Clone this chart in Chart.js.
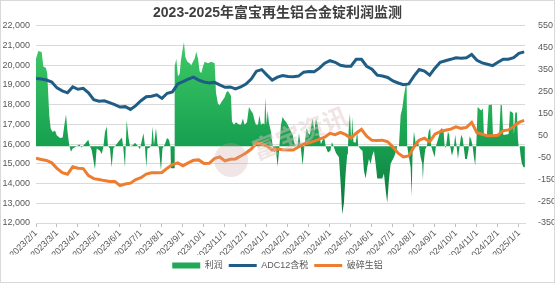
<!DOCTYPE html>
<html>
<head>
<meta charset="utf-8">
<script src="https://cdn.jsdelivr.net/npm/chart.js@4.4.1/dist/chart.umd.min.js"></script>
<style>
  html, body { margin: 0; padding: 0; background: #fff; }
  #wrap { width: 555px; height: 283px; position: relative; }
</style>
</head>
<body>
<div id="wrap"><canvas id="profitChart"></canvas></div>
<script>
// month tick labels (x axis)
const monthLabels = [
    '2023/2/1', '2023/3/1', '2023/4/1', '2023/5/1', '2023/6/1', '2023/7/1',
    '2023/8/1', '2023/9/1', '2023/10/1', '2023/11/1', '2023/12/1', '2024/1/1',
    '2024/2/1', '2024/3/1', '2024/4/1', '2024/5/1', '2024/6/1', '2024/7/1',
    '2024/8/1', '2024/9/1', '2024/10/1', '2024/11/1', '2024/12/1', '2025/1/1'
];

// ADC12含税 - four readings per month, left axis
const adc12 = [
    19330, 19300, 19250, 19150, 18850, 18700, 18600, 18900, 18780, 18830,
    18600, 18250, 18180, 18200, 18100, 18000, 17880, 17900, 17760, 17950,
    18200, 18400, 18430, 18500, 18320, 18580, 18650, 19050, 19170, 19300,
    19400, 19250, 19150, 19100, 19130, 19000, 18880, 18900, 18800, 18900,
    19050, 19300, 19700, 19780, 19500, 19250, 19400, 19480, 19430, 19420,
    19450, 19650, 19680, 19670, 19850, 20100, 20230, 20150, 20000, 19950,
    19950, 20300, 20300, 19950, 19800, 19500, 19450, 19380, 19200, 19100,
    19010, 19050, 19450, 19780, 19700, 19500, 19850, 20150, 20230, 20300,
    20380, 20350, 20380, 20550, 20250, 20120, 20050, 19980, 20150, 20310,
    20310, 20380, 20600, 20680
];

// 破碎生铝 - four readings per month, left axis
const scrapAl = [
    15280, 15220, 15170, 15050, 14770, 14550, 14470, 14850, 14780, 14760,
    14400, 14250, 14210, 14150, 14110, 14110, 13900, 13980, 14020, 14200,
    14300, 14480, 14550, 14550, 14560, 14780, 14960, 15050, 14900, 15050,
    15180, 15200, 15020, 15030, 15270, 15350, 15150, 15230, 15250, 15400,
    15550, 15750, 16050, 16020, 15900, 15700, 15750, 15720, 15700, 15700,
    15850, 16010, 16060, 16150, 16250, 16350, 16550, 16480, 16600, 16480,
    16300, 16550, 16750, 16400, 16190, 16180, 16200, 16120, 15850, 15540,
    15350, 15400, 15850, 16200, 16300, 16120, 16500, 16630, 16700, 16760,
    16880, 16800, 16850, 17100, 16580, 16500, 16420, 16420, 16450, 16680,
    16720, 16900, 17100, 17200
];

// 利润 - trading day index (21 per month) and value, right axis
const profitDay = [
    0, 2.3, 5.7, 7.3, 10, 11.3, 12.3, 13.3, 14.7, 16.7,
    19, 20.7, 24, 26.7, 28.3, 30, 31.7, 33.3, 35, 36.7,
    40.7, 43.3, 45.7, 49, 52.3, 54, 55.7, 59, 60.7, 64,
    65.7, 67.3, 69, 70.7, 72, 74, 75.7, 77.3, 80.7, 84,
    86, 87.3, 89, 90.7, 92.5, 94, 97, 99, 102, 104,
    106, 107.5, 109, 110.3, 111.5, 114, 115.5, 116.5, 118, 120,
    121.5, 123, 125, 126.5, 129, 131, 133, 134.5, 135, 138.3,
    138.7, 140.3, 142, 143.7, 145, 147, 148, 149.3, 151.3, 153.7,
    155.3, 157, 158.7, 160.3, 162, 163.7, 165.3, 167, 168.7, 172,
    175.3, 177, 178.7, 179.3, 180, 182, 183.7, 185.3, 188.7, 190.3,
    192, 193, 195, 196, 198, 200, 203, 205, 207, 208.5,
    211, 213, 215, 217, 218.5, 220, 222, 223.5, 225, 227,
    228.5, 229.3, 230.7, 231.7, 233, 235, 236.7, 238.3, 240, 241.7,
    243.3, 245, 246.7, 248.3, 250, 251.7, 253.3, 255, 256.7, 258.3,
    260, 261.7, 263, 264.3, 266.7, 268.3, 270.7, 272.3, 274, 275,
    276.7, 278.3, 280, 281.7, 283.3, 285, 286.7, 288.5, 290, 292,
    294.5, 296, 298, 300, 303, 304.7, 306.3, 308, 309.7, 311.3,
    312, 313, 314, 315.3, 316.3, 317.5, 319.7, 321.3, 322.3, 324.7,
    326.5, 328, 329.7, 331.3, 333, 334.7, 336.3, 338, 339.7, 341.3,
    346.3, 348, 349.7, 351.3, 353, 354.7, 356.3, 358, 359.7, 361.3,
    363, 364.7, 366.3, 368, 369.7, 370.7, 371.3, 373, 374.7, 375.7,
    376.7, 378, 379.7, 381.3, 383, 384.7, 386.3, 387, 387.7, 389.3,
    391, 392.7, 394.3, 395.3, 396.7, 398.7, 400, 402, 403.3, 404.3,
    406, 407.7, 408.7, 410, 411, 412, 413.3, 414.3, 416, 417.7,
    419.3, 420.7, 422, 423.3, 425.3, 426.7, 427.7, 429.3, 431, 432.7,
    433.7, 435.3, 436.7, 438, 439.3, 440.3, 441.7, 443.3, 445.3, 447,
    448, 449.3, 451, 452.7, 454.3, 456, 457, 459.3, 461, 463.3,
    464.7, 466, 467.3, 469.3, 472.7, 474, 476, 477.3, 478, 479.3,
    481, 482, 482.7, 483.7, 484.7, 486, 487.7, 489
];
const profitVal = [
    400, 435, 430, 364, 357, 330, 231, 140, 80, 65,
    72, 50, 38, 40, 95, 145, 60, 5, -25, -10,
    0, 8, -5, 12, 30, 0, -18, -105, -10, -20,
    -35, -5, 65, 90, 0, -10, -95, -10, 10, 30,
    40, -5, -95, 120, 40, 0, 5, 16, 0, -13,
    31, 60, 0, -95, -10, -5, 10, 90, 5, 83,
    10, -10, -110, -10, 10, 38, 30, 0, -100, -100,
    364, 400, 320, 330, 394, 453, 475, 409, 386, 379,
    370, 386, 401, 431, 401, 342, 335, 364, 386, 379,
    386, 382, 379, 320, 246, 194, 187, 201, 224, 246,
    253, 246, 231, 113, 98, 110, 100, 98, 127, 98,
    110, 179, 164, 150, 120, 98, 98, 142, 98, 105,
    100, 224, 100, 164, 105, 68, 0, -28, -20, -92,
    -10, 98, 135, 120, 112, 98, 83, 68, 53, 16,
    0, 5, 60, 16, -87, -5, 83, 60, 53, 90,
    127, 68, 127, 98, 53, 10, 30, 35, -5, -28,
    -20, 20, -5, -30, -50, -169, -310, -258, -124, -36,
    0, 98, 150, 20, 135, 20, 16, 68, 0, -13,
    -20, -110, -147, -95, -58, -80, -43, -21, -80, -147,
    -147, -124, -198, -258, -154, -80, -65, -50, -28, 0,
    0, 142, 172, 231, 275, 283, 0, -50, -95, -228,
    -20, 68, 16, 31, 0, -50, -80, -154, -80, -13,
    0, 68, 83, 0, -21, -50, 0, 31, 53, 75,
    83, 68, 0, -6, 31, 68, 53, 0, -43, -13,
    53, 0, -58, -13, 53, 38, 0, -58, -58, -13,
    46, 31, 0, -50, -87, 0, 179, 172, 164, 172,
    53, 46, 53, 187, 190, 190, 53, 46, 53, 53,
    190, 187, 53, 53, 56, 160, 157, 150, 53, 154,
    154, 38, 0, 0, -43, -80, -95, -95
];

const PER_MONTH = 4;        // line readings per month
const DAYS_PER_MONTH = 21;  // trading days per month

const FONT = '"Liberation Sans", "Noto Sans CJK SC", sans-serif';
const TEXT = '#595959';
const GREEN = '#1fa855';
const BLUE = '#1f5d87';
const ORANGE = '#ed7d31';

const toPoints = arr => arr.map((v, i) => ({ x: i / PER_MONTH, y: v }));
const profitPoints = profitDay.map((d, i) => ({ x: d / DAYS_PER_MONTH, y: profitVal[i] }));

function greenFill(context) {
    const area = context.chart.chartArea;
    if (!area) return GREEN;
    const g = context.chart.ctx.createLinearGradient(0, area.top, 0, area.bottom);
    g.addColorStop(0, '#45d06b');
    g.addColorStop(0.6, '#17a050');
    g.addColorStop(1, '#0d6c3a');
    return g;
}

// white background, faint watermark and outer border
const framePlugin = {
    id: 'frame',
    beforeDraw(chart) {
        const { ctx, width, height } = chart;
        ctx.save();
        ctx.fillStyle = '#fff';
        ctx.fillRect(0, 0, width, height);
        ctx.restore();
    },
    afterDatasetsDraw(chart) {
        const { ctx } = chart;
        ctx.save();
        ctx.fillStyle = 'rgba(205, 160, 160, 0.28)';
        ctx.beginPath();
        ctx.arc(231, 160, 17, 0, Math.PI * 2);
        ctx.fill();
        ctx.translate(300, 133);
        ctx.rotate(-0.38);
        ctx.font = 'bold 25px "Noto Sans CJK SC"';
        ctx.textAlign = 'center';
        ctx.textBaseline = 'middle';
        ctx.fillStyle = 'rgba(225, 195, 195, 0.45)';
        ctx.fillText('富宝资讯', 0, 0);
        ctx.restore();
    },
    afterDraw(chart) {
        const { ctx, width, height } = chart;
        ctx.save();
        ctx.strokeStyle = '#d9d9d9';
        ctx.lineWidth = 1;
        ctx.strokeRect(0.5, 0.5, width - 1, height - 1);
        ctx.restore();
    }
};

Chart.defaults.font.family = FONT;
Chart.defaults.color = TEXT;

new Chart(document.getElementById('profitChart'), {
    type: 'line',
    data: {
        datasets: [
            {
                label: '利润',
                data: profitPoints,
                yAxisID: 'y1',
                fill: 'origin',
                backgroundColor: greenFill,
                borderWidth: 0,
                pointRadius: 0,
                tension: 0,
                order: 3
            },
            {
                label: 'ADC12含税',
                data: toPoints(adc12),
                yAxisID: 'y',
                borderColor: BLUE,
                backgroundColor: BLUE,
                borderWidth: 3,
                pointRadius: 0,
                tension: 0,
                order: 2
            },
            {
                label: '破碎生铝',
                data: toPoints(scrapAl),
                yAxisID: 'y',
                borderColor: ORANGE,
                backgroundColor: ORANGE,
                borderWidth: 3,
                pointRadius: 0,
                tension: 0,
                order: 1
            }
        ]
    },
    options: {
        responsive: true,
        maintainAspectRatio: false,
        animation: false,
        layout: { padding: { left: 0, right: 0, top: 0, bottom: 3 } },
        plugins: {
            title: {
                display: true,
                text: '2023-2025年富宝再生铝合金锭利润监测',
                color: '#404040',
                font: { size: 14, weight: 'bold' },
                padding: { top: 5, bottom: 4 }
            },
            legend: {
                position: 'bottom',
                labels: {
                    usePointStyle: true,
                    pointStyleWidth: 28,
                    boxHeight: 6,
                    padding: 6,
                    color: TEXT,
                    font: { size: 9 },
                    sort: (a, b) => a.datasetIndex - b.datasetIndex,
                    generateLabels(chart) {
                        const items = Chart.defaults.plugins.legend.labels.generateLabels(chart);
                        return items.map(it => Object.assign(it, it.datasetIndex === 0
                            ? { pointStyle: 'rect', fillStyle: GREEN, strokeStyle: GREEN, lineWidth: 0 }
                            : { pointStyle: 'line' }));
                    }
                }
            },
            tooltip: { enabled: false }
        },
        scales: {
            x: {
                type: 'linear',
                min: 0,
                max: 23.29,
                afterBuildTicks: s => { s.ticks = monthLabels.map((_, m) => ({ value: m })); },
                afterFit: s => { s.height = 32; },
                ticks: {
                    autoSkip: false,
                    minRotation: 45,
                    maxRotation: 45,
                    padding: 1,
                    color: TEXT,
                    font: { size: 9 },
                    callback: v => monthLabels[v]
                },
                grid: { drawOnChartArea: false, drawTicks: true, tickLength: 4, color: '#bfbfbf' },
                border: { color: '#d9d9d9' }
            },
            y: {
                position: 'left',
                min: 12000,
                max: 22000,
                afterFit: s => { s.width = 36; },
                ticks: { stepSize: 1000, padding: 6, color: TEXT, font: { size: 9 } },
                grid: { color: '#d9d9d9', drawTicks: false },
                border: { display: false }
            },
            y1: {
                position: 'right',
                min: -350,
                max: 550,
                afterFit: s => { s.width = 30; },
                ticks: { stepSize: 100, padding: 5, color: TEXT, font: { size: 9 } },
                grid: { display: false, drawOnChartArea: false },
                border: { display: false }
            }
        }
    },
    plugins: [framePlugin]
});
</script>
</body>
</html>
